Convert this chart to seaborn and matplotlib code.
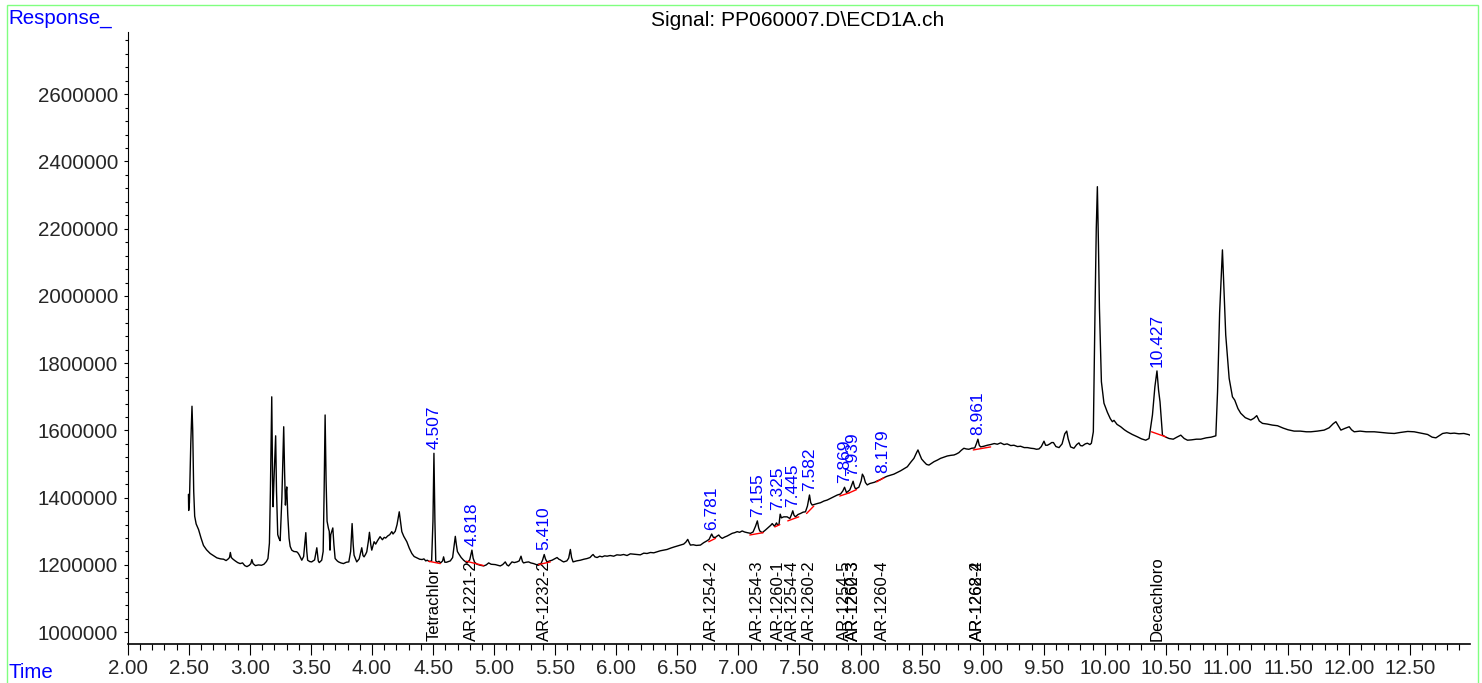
import numpy as np
import pandas as pd
import seaborn as sns
import matplotlib.pyplot as plt
from matplotlib.ticker import MultipleLocator, FormatStrFormatter
from matplotlib.patches import Rectangle

# chromatogram trace: retention time (min) and response (x1000 counts)
rt = [
    2.497, 2.499, 2.505, 2.516, 2.526, 2.532, 2.540, 2.548, 2.560, 2.580,
    2.600, 2.620, 2.645, 2.675, 2.700, 2.730, 2.760, 2.785, 2.805, 2.820,
    2.833, 2.840, 2.848, 2.862, 2.880, 2.900, 2.920, 2.940, 2.958, 2.976,
    2.995, 3.008, 3.016, 3.026, 3.045, 3.070, 3.095, 3.115, 3.135, 3.148,
    3.160, 3.168, 3.179, 3.186, 3.190, 3.197, 3.211, 3.218, 3.228, 3.238,
    3.248, 3.262, 3.277, 3.284, 3.291, 3.296, 3.302, 3.310, 3.321, 3.330,
    3.343, 3.360, 3.384, 3.395, 3.405, 3.425, 3.440, 3.458, 3.466, 3.473,
    3.490, 3.506, 3.530, 3.548, 3.560, 3.568, 3.588, 3.600, 3.608, 3.616,
    3.624, 3.632, 3.643, 3.650, 3.656, 3.662, 3.679, 3.688, 3.698, 3.715,
    3.726, 3.745, 3.766, 3.790, 3.810, 3.825, 3.837, 3.846, 3.853, 3.875,
    3.895, 3.916, 3.926, 3.935, 3.948, 3.957, 3.970, 3.979, 3.990, 3.998,
    4.010, 4.017, 4.030, 4.045, 4.066, 4.085, 4.100, 4.112, 4.128, 4.145,
    4.162, 4.172, 4.190, 4.205, 4.223, 4.235, 4.244, 4.260, 4.285, 4.305,
    4.326, 4.345, 4.367, 4.390, 4.410, 4.425, 4.440, 4.452, 4.470, 4.488,
    4.499, 4.507, 4.515, 4.522, 4.535, 4.548, 4.562, 4.578, 4.586, 4.596,
    4.610, 4.625, 4.641, 4.660, 4.670, 4.682, 4.690, 4.699, 4.712, 4.730,
    4.750, 4.778, 4.800, 4.808, 4.818, 4.828, 4.840, 4.860, 4.887, 4.914,
    4.935, 4.955, 4.975, 5.009, 5.030, 5.050, 5.070, 5.091, 5.105, 5.118,
    5.132, 5.146, 5.165, 5.187, 5.205, 5.220, 5.232, 5.241, 5.262, 5.282,
    5.300, 5.323, 5.345, 5.364, 5.385, 5.396, 5.410, 5.420, 5.433, 5.455,
    5.474, 5.495, 5.515, 5.530, 5.542, 5.558, 5.569, 5.595, 5.610, 5.624,
    5.634, 5.646, 5.675, 5.706, 5.735, 5.761, 5.785, 5.800, 5.810, 5.825,
    5.843, 5.865, 5.884, 5.905, 5.925, 5.950, 5.979, 6.005, 6.034, 6.060,
    6.088, 6.115, 6.143, 6.170, 6.197, 6.225, 6.252, 6.280, 6.307, 6.334,
    6.360, 6.390, 6.416, 6.445, 6.470, 6.498, 6.525, 6.552, 6.570, 6.585,
    6.597, 6.607, 6.630, 6.655, 6.689, 6.715, 6.744, 6.760, 6.772, 6.781,
    6.795, 6.812, 6.826, 6.839, 6.852, 6.867, 6.888, 6.908, 6.928, 6.949,
    6.970, 6.990, 7.010, 7.031, 7.050, 7.072, 7.099, 7.120, 7.140, 7.155,
    7.166, 7.175, 7.195, 7.222, 7.249, 7.265, 7.277, 7.295, 7.312, 7.322,
    7.332, 7.342, 7.352, 7.371, 7.399, 7.421, 7.435, 7.445, 7.455, 7.467,
    7.488, 7.508, 7.530, 7.549, 7.565, 7.582, 7.592, 7.604, 7.631, 7.650,
    7.672, 7.700, 7.727, 7.755, 7.781, 7.810, 7.836, 7.855, 7.869, 7.885,
    7.912, 7.925, 7.939, 7.950, 7.959, 7.986, 8.005, 8.015, 8.027, 8.040,
    8.055, 8.075, 8.096, 8.115, 8.137, 8.158, 8.178, 8.200, 8.219, 8.245,
    8.273, 8.300, 8.328, 8.355, 8.383, 8.410, 8.437, 8.460, 8.470, 8.485,
    8.500, 8.519, 8.540, 8.560, 8.580, 8.601, 8.630, 8.655, 8.685, 8.710,
    8.740, 8.765, 8.785, 8.805, 8.825, 8.846, 8.865, 8.887, 8.910, 8.935,
    8.950, 8.961, 8.972, 8.983, 9.010, 9.038, 9.065, 9.095, 9.120, 9.147,
    9.175, 9.200, 9.230, 9.256, 9.285, 9.310, 9.340, 9.366, 9.395, 9.420,
    9.440, 9.461, 9.480, 9.502, 9.515, 9.530, 9.550, 9.565, 9.579, 9.600,
    9.625, 9.650, 9.672, 9.688, 9.700, 9.720, 9.747, 9.770, 9.788, 9.800,
    9.816, 9.840, 9.857, 9.878, 9.890, 9.906, 9.920, 9.930, 9.939, 9.948,
    9.956, 9.972, 9.993, 10.021, 10.045, 10.062, 10.075, 10.100, 10.130, 10.160,
    10.185, 10.225, 10.267, 10.300, 10.335, 10.362, 10.390, 10.410, 10.427, 10.440,
    10.452, 10.472, 10.500, 10.526, 10.560, 10.590, 10.622, 10.650, 10.677, 10.710,
    10.750, 10.786, 10.830, 10.870, 10.909, 10.923, 10.940, 10.963, 10.978, 10.990,
    11.018, 11.045, 11.064, 11.090, 11.113, 11.150, 11.195, 11.220, 11.244, 11.265,
    11.291, 11.330, 11.370, 11.414, 11.460, 11.500, 11.550, 11.600, 11.650, 11.687,
    11.740, 11.796, 11.837, 11.870, 11.892, 11.910, 11.933, 11.965, 12.001, 12.020,
    12.042, 12.090, 12.140, 12.206, 12.260, 12.320, 12.370, 12.420, 12.480, 12.533,
    12.590, 12.643, 12.680, 12.711, 12.740, 12.766, 12.800, 12.830, 12.861, 12.900,
    12.940, 12.975, 12.990,
]
resp_k = [
    1410, 1362, 1385, 1560, 1672, 1600, 1420, 1345, 1322, 1305,
    1280, 1258, 1245, 1234, 1228, 1221, 1218, 1217, 1213, 1217,
    1222, 1237, 1222, 1217, 1212, 1207, 1204, 1206, 1198, 1195,
    1199, 1204, 1216, 1204, 1198, 1200, 1199, 1202, 1210, 1219,
    1265, 1420, 1700, 1450, 1373, 1450, 1584, 1420, 1290, 1279,
    1272, 1400, 1611, 1480, 1378, 1410, 1432, 1350, 1279, 1255,
    1244, 1240, 1239, 1235, 1229, 1214, 1225, 1296, 1240, 1214,
    1210, 1209, 1215, 1251, 1212, 1207, 1214, 1240, 1420, 1646,
    1450, 1330, 1309, 1300, 1244, 1290, 1310, 1260, 1219, 1212,
    1209, 1206, 1204, 1208, 1209, 1240, 1323, 1260, 1229, 1209,
    1218, 1251, 1228, 1224, 1232, 1239, 1270, 1297, 1260, 1244,
    1260, 1269, 1262, 1272, 1284, 1275, 1282, 1280, 1286, 1290,
    1299, 1292, 1300, 1320, 1358, 1325, 1299, 1285, 1269, 1250,
    1234, 1225, 1221, 1217, 1216, 1218, 1212, 1214, 1210, 1212,
    1330, 1532, 1330, 1212, 1208, 1211, 1206, 1212, 1224, 1208,
    1208, 1210, 1212, 1222, 1250, 1285, 1262, 1240, 1232, 1222,
    1214, 1206, 1215, 1228, 1244, 1220, 1208, 1202, 1199, 1197,
    1200, 1206, 1202, 1201, 1199, 1197, 1201, 1209, 1200, 1197,
    1203, 1209, 1207, 1209, 1212, 1226, 1210, 1206, 1208, 1209,
    1206, 1204, 1201, 1199, 1205, 1214, 1231, 1218, 1209, 1212,
    1214, 1218, 1222, 1217, 1215, 1211, 1209, 1212, 1220, 1246,
    1222, 1209, 1212, 1214, 1217, 1219, 1222, 1228, 1231, 1224,
    1222, 1226, 1224, 1227, 1226, 1228, 1226, 1230, 1229, 1231,
    1228, 1233, 1232, 1231, 1230, 1235, 1234, 1237, 1236, 1239,
    1242, 1244, 1246, 1250, 1253, 1256, 1259, 1262, 1268, 1276,
    1266, 1259, 1260, 1258, 1259, 1266, 1272, 1276, 1285, 1292,
    1282, 1282, 1286, 1289, 1283, 1279, 1283, 1286, 1290, 1294,
    1296, 1299, 1297, 1301, 1298, 1296, 1294, 1298, 1315, 1331,
    1310, 1301, 1296, 1304, 1313, 1318, 1323, 1315, 1325, 1318,
    1320, 1351, 1340, 1343, 1343, 1338, 1350, 1361, 1348, 1343,
    1350, 1353, 1357, 1358, 1375, 1408, 1385, 1378, 1381, 1383,
    1385, 1390, 1393, 1398, 1403, 1408, 1411, 1420, 1431, 1415,
    1423, 1435, 1449, 1433, 1426, 1431, 1450, 1470, 1462, 1445,
    1438, 1442, 1444, 1446, 1450, 1453, 1457, 1461, 1464, 1467,
    1470, 1475, 1480, 1486, 1492, 1505, 1517, 1535, 1542, 1528,
    1515, 1507, 1499, 1497, 1502, 1507, 1512, 1517, 1521, 1524,
    1526, 1527, 1530, 1534, 1541, 1547, 1545, 1544, 1547, 1548,
    1562, 1574, 1556, 1551, 1553, 1556, 1558, 1561, 1559, 1563,
    1558, 1560, 1555, 1556, 1552, 1553, 1549, 1549, 1547, 1546,
    1544, 1545, 1552, 1568, 1556, 1556, 1560, 1564, 1564, 1552,
    1549, 1560, 1590, 1598, 1575, 1551, 1547, 1558, 1563, 1555,
    1554, 1560, 1562, 1558, 1562, 1596, 1963, 2200, 2325, 2150,
    1963, 1745, 1681, 1654, 1635, 1626, 1630, 1618, 1611, 1602,
    1596, 1588, 1581, 1575, 1571, 1576, 1646, 1730, 1777, 1720,
    1685, 1586, 1580, 1576, 1574, 1580, 1586, 1576, 1571, 1572,
    1574, 1574, 1578, 1580, 1584, 1715, 1950, 2137, 2000, 1884,
    1755, 1700, 1690, 1665, 1651, 1638, 1631, 1636, 1644, 1628,
    1621, 1619, 1616, 1614, 1607, 1602, 1598, 1598, 1596, 1596,
    1598, 1601, 1608, 1620, 1626, 1615, 1601, 1606, 1611, 1602,
    1596, 1598, 1596, 1596, 1594, 1592, 1591, 1594, 1597, 1596,
    1592, 1588, 1580, 1578, 1585, 1591, 1593, 1591, 1592, 1590,
    1591, 1588, 1586,
]

# integrated peaks: retention time label and apex height (x1000)
peak_rt = [4.507, 4.818, 5.410, 6.781, 7.155, 7.325, 7.445, 7.582, 7.869, 7.939, 8.179, 8.961, 10.427]
peak_top_k = [1532, 1244, 1231, 1292, 1331, 1351, 1361, 1408, 1431, 1452, 1462, 1574, 1777]

# red integration baselines
base_t0 = [4.463, 4.772, 5.364, 6.757, 7.093, 7.298, 7.404, 7.558, 7.830, 7.905, 8.131, 8.923, 10.382]
base_t1 = [4.559, 4.914, 5.460, 6.812, 7.203, 7.339, 7.494, 7.617, 7.905, 7.967, 8.191, 9.065, 10.499]
base_r0 = [1211, 1211, 1201, 1269, 1289, 1313, 1331, 1353, 1405, 1414, 1447, 1542, 1596]
base_r1 = [1204, 1198, 1209, 1279, 1296, 1320, 1343, 1375, 1414, 1424, 1459, 1551, 1581]

# compound names at the bottom
cmpd_names = ['Tetrachlor', 'AR-1221-2', 'AR-1232-2', 'AR-1254-2', 'AR-1254-3', 'AR-1260-1',
              'AR-1254-4', 'AR-1260-2', 'AR-1254-5', 'AR-1260-3', 'AR-1262-3', 'AR-1260-4',
              'AR-1268-2', 'AR-1262-4', 'Decachloro']
cmpd_rt = [4.507, 4.818, 5.410, 6.781, 7.155, 7.325, 7.445, 7.582, 7.869, 7.939, 7.939, 8.179,
           8.961, 8.961, 10.427]

df = pd.DataFrame({'Time': rt, 'Response': np.array(resp_k) * 1000})

sns.set_theme(style='ticks')
plt.rcParams['font.family'] = ['Liberation Sans', 'DejaVu Sans']

fig = plt.figure(figsize=(14.82, 6.83), dpi=100)
ax = fig.add_axes([0.0862, 0.0567, 0.9057, 0.8969])

sns.lineplot(data=df, x='Time', y='Response', ax=ax, color='black', linewidth=1.0,
             estimator=None, sort=False)

# baselines
for t0, t1, r0, r1 in zip(base_t0, base_t1, base_r0, base_r1):
    ax.plot([t0, t1], [r0 * 1000, r1 * 1000], color='red', lw=1.0, zorder=5)

# retention time labels
for t, top in zip(peak_rt, peak_top_k):
    ax.annotate('{:.3f}'.format(t), xy=(t, top * 1000), xytext=(0, 3), textcoords='offset points',
                rotation=90, ha='center', va='bottom', color='#0000ff', fontsize=12.5)

# compound names
for name, t in zip(cmpd_names, cmpd_rt):
    ax.annotate(name, xy=(t, 0), xycoords=('data', 'axes fraction'), xytext=(0, 2),
                textcoords='offset points', rotation=90, ha='center', va='bottom',
                color='black', fontsize=12)

ax.set_xlim(2.0, 12.99)
ax.set_ylim(964000, 2786000)
ax.set_xlabel('')
ax.set_ylabel('')

ax.xaxis.set_major_locator(MultipleLocator(0.5))
ax.xaxis.set_minor_locator(MultipleLocator(0.1))
ax.xaxis.set_major_formatter(FormatStrFormatter('%.2f'))
ax.yaxis.set_major_locator(MultipleLocator(200000))
ax.yaxis.set_minor_locator(MultipleLocator(40000))
ax.yaxis.set_major_formatter(FormatStrFormatter('%d'))

ax.tick_params(axis='x', which='major', length=7.7, width=0.8, labelsize=14.8, pad=3, color='black')
ax.tick_params(axis='x', which='minor', length=4, width=0.8, color='black')
ax.tick_params(axis='y', which='major', length=3, width=0.8, labelsize=14.8, pad=4, color='black')
ax.tick_params(axis='y', which='minor', length=2, width=0.8, color='black')

sns.despine(ax=ax)
ax.spines['left'].set_color('black')
ax.spines['bottom'].set_color('black')
ax.spines['left'].set_linewidth(0.8)
ax.spines['bottom'].set_linewidth(1.2)

fig.text(0.0054, 0.9659, 'Response_', color='#0000ff', fontsize=14.8, ha='left', va='baseline')
fig.text(0.0054, 0.0069, 'Time', color='#0000ff', fontsize=14.8, ha='left', va='baseline')
fig.text(0.5385, 0.962, 'Signal: PP060007.D\\ECD1A.ch', color='black', fontsize=15.1,
         ha='center', va='baseline')

fig.add_artist(Rectangle((0.0045, -0.05), 0.9928, 1.0431, transform=fig.transFigure,
                         fill=False, edgecolor='#80ff80', lw=1.0))

fig.savefig('out.png', dpi=100)
